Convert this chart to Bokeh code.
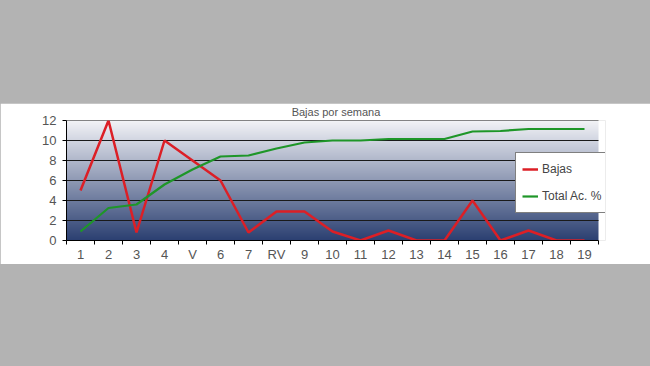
import numpy as np
from bokeh.plotting import figure
from bokeh.models import FixedTicker, Legend, LegendItem, Range1d, Spacer
from bokeh.layouts import column
from bokeh.embed import file_html
from bokeh.resources import INLINE

weeks = ["1", "2", "3", "4", "V", "6", "7", "RV", "9", "10",
         "11", "12", "13", "14", "15", "16", "17", "18", "19"]
bajas = [5, 12, 0.8, 10, 8, 6, 0.8, 2.9, 2.9, 0.9,
         0, 1, 0, 0, 4, 0, 1, 0, 0]
total_ac = [0.9, 3.25, 3.6, 5.6, 7.1, 8.4, 8.5, 9.2, 9.8, 10.0,
            10.0, 10.15, 10.15, 10.15, 10.9, 10.95, 11.15, 11.15, 11.15]
y_ticks = [0, 2, 4, 6, 8, 10, 12]

xs = list(range(1, len(weeks) + 1))
x0, x1 = 0.5, len(weeks) + 0.5
x_extra = 0.25  # room for legend overhang
y0, y1 = 0, 12

FONT = "Liberation Sans"
GRAY_TXT = "#555555"

p = figure(frame_width=539, frame_height=120, output_backend="svg",
           toolbar_location=None, x_range=Range1d(x0, x1 + x_extra), y_range=Range1d(y0, y1),
           min_border_left=66, min_border_right=45, min_border_top=17, min_border_bottom=20,
           border_fill_color="white", background_fill_color="white",
           outline_line_color=None, title="Bajas por semana")
p.title.align = "center"
p.title.vertical_align = "top"
p.title.text_font = FONT
p.title.text_font_size = "11px"
p.title.text_font_style = "normal"
p.title.text_color = GRAY_TXT
p.title.standoff = 1
p.title.offset = -5

# gradient background
n = 120
top = np.array([0xf2, 0xf3, 0xf7], dtype=float)
bot = np.array([0x2c, 0x40, 0x72], dtype=float)
t = np.linspace(0, 1, n)[:, None]  # row 0 = bottom
cols = bot * (1 - t) + top * t
img = np.zeros((n, 1), dtype=np.uint32)
view = img.view(dtype=np.uint8).reshape((n, 1, 4))
view[:, 0, 0] = cols[:, 0].astype(np.uint8)
view[:, 0, 1] = cols[:, 1].astype(np.uint8)
view[:, 0, 2] = cols[:, 2].astype(np.uint8)
view[:, 0, 3] = 255
p.image_rgba(image=[img], x=x0, y=y0, dw=x1 - x0, dh=y1 - y0, level="image")

# horizontal grid lines limited to the plot area
p.xgrid.grid_line_color = None
p.ygrid.grid_line_color = None
gy = y_ticks[1:]
p.segment(x0=[x0] * len(gy), x1=[x1] * len(gy), y0=gy, y1=gy,
          line_color="#1a1a1a", line_width=1, level="underlay")

r_bajas = p.line(xs, bajas, line_color="#dc1f26", line_width=2.5)
r_total = p.line(xs, total_ac, line_color="#1e9628", line_width=2.2)

# axes
p.yaxis.ticker = FixedTicker(ticks=y_ticks)
p.yaxis.axis_line_color = "black"
p.yaxis.major_tick_line_color = "black"
p.yaxis.major_tick_out = 4
p.yaxis.major_tick_in = 0
p.yaxis.minor_tick_line_color = None
p.yaxis.major_label_text_font = FONT
p.yaxis.major_label_text_font_size = "13px"
p.yaxis.major_label_text_color = GRAY_TXT
p.yaxis.major_label_standoff = 6

p.xaxis.bounds = (x0, x1)
p.xaxis.ticker = FixedTicker(ticks=xs, minor_ticks=[x + 0.5 for x in range(0, len(weeks) + 1)])
p.xaxis.major_label_overrides = {x: w for x, w in zip(xs, weeks)}
p.xaxis.axis_line_color = "black"
p.xaxis.major_tick_line_color = None
p.xaxis.minor_tick_line_color = "black"
p.xaxis.minor_tick_out = 4
p.xaxis.minor_tick_in = 0
p.xaxis.major_label_text_font = FONT
p.xaxis.major_label_text_font_size = "13px"
p.xaxis.major_label_text_color = GRAY_TXT
p.xaxis.major_label_standoff = 0

legend = Legend(items=[LegendItem(label="Bajas", renderers=[r_bajas]),
                       LegendItem(label="Total Ac. %", renderers=[r_total])],
                location=(449, 27), orientation="vertical",
                background_fill_color="white", background_fill_alpha=1,
                border_line_color="black", border_line_width=1,
                label_text_font=FONT, label_text_font_size="12px",
                label_text_color="#444444", glyph_width=16, glyph_height=20,
                label_height=20, label_standoff=4, spacing=7, padding=6, margin=0)
p.add_layout(legend, "center")

layout = column(Spacer(width=650, height=103), p, spacing=0)

html = file_html(layout, INLINE)
html = html.replace("</head>", "<style>body{background:#b3b3b3;}</style></head>")
open("out.html", "w").write(html)
